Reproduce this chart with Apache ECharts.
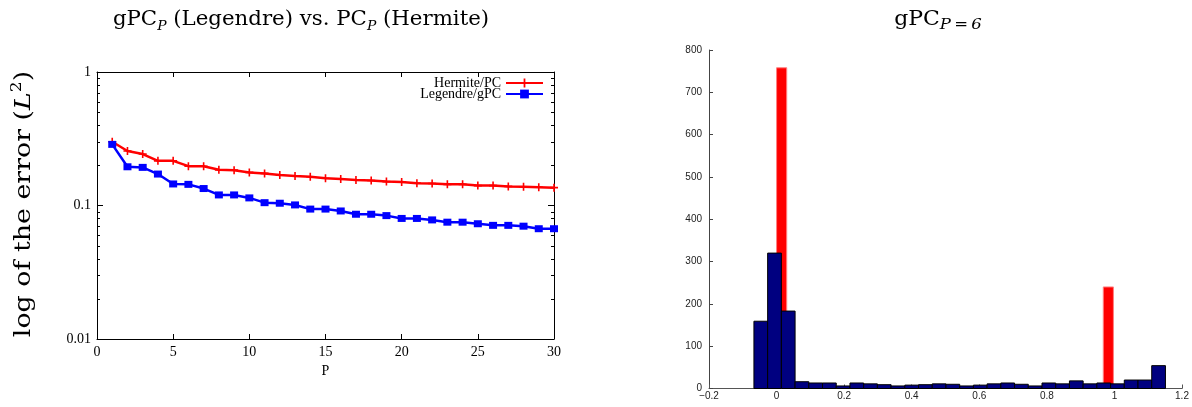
<!DOCTYPE html>
<html><head><meta charset="utf-8">
<script src="https://cdn.jsdelivr.net/npm/echarts@6/dist/echarts.min.js"></script>
<style>html,body{margin:0;padding:0;background:#fff}#c{width:1192px;height:407px}</style>
</head><body><div id="c"></div>
<script>
// ---- left chart data ----
const P = [1,2,3,4,5,6,7,8,9,10,11,12,13,14,15,16,17,18,19,20,21,22,23,24,25,26,27,28,29,30];
const hermite = [0.300,0.256,0.243,0.216,0.216,0.197,0.197,0.185,0.184,0.177,0.174,0.169,0.166,0.164,0.160,0.158,0.155,0.154,0.151,0.150,0.147,0.146,0.144,0.144,0.141,0.141,0.139,0.138,0.137,0.136];
const legendre = [0.287,0.195,0.193,0.172,0.145,0.144,0.134,0.120,0.120,0.114,0.105,0.104,0.101,0.094,0.094,0.091,0.086,0.086,0.084,0.080,0.080,0.078,0.075,0.075,0.073,0.071,0.071,0.070,0.067,0.067];
const logMinorTicks = [0.02,0.03,0.04,0.05,0.06,0.07,0.08,0.09,0.2,0.3,0.4,0.5,0.6,0.7,0.8,0.9];
const seriesNames = ['Hermite/PC','Legendre/gPC'];

// ---- right chart data (histogram, P=6) ----
const binEdges = [-0.067,-0.0264,0.0142,0.0548,0.0954,0.136,0.1766,0.2172,0.2578,0.2984,0.339,0.3796,0.4202,0.4608,0.5014,0.542,0.5826,0.6232,0.6638,0.7044,0.745,0.7856,0.8262,0.8668,0.9074,0.948,0.9886,1.0292,1.0698,1.1104,1.151];
const gpcCounts = [159,320,183,16,13,13,6,13,11,9,6,8,9,11,10,6,8,11,13,10,6,13,11,18,11,13,11,20,20,54];
const refLeft = [0, 0.967];
const refRight = [0.03, 0.997];
const refCounts = [758, 240];

const serif = 'Liberation Serif';
const cm = 'DejaVu Serif';
const sans = 'Liberation Sans';

const histData = gpcCounts.map((c, i) => [binEdges[i], binEdges[i+1], c]);
const refData = refCounts.map((c, i) => [refLeft[i], refRight[i], c]);

function rectItem(fill, stroke) {
  return function (params, api) {
    const a = api.coord([api.value(0), api.value(2)]);
    const b = api.coord([api.value(1), 0]);
    return {
      type: 'rect',
      shape: { x: a[0], y: a[1], width: b[0] - a[0], height: b[1] - a[1] },
      style: { fill: fill, stroke: stroke, lineWidth: 1 }
    };
  };
}

// minor log ticks on both frame sides, positioned by the log axis
function minorTickItem(params, api) {
  const v = api.value(1);
  const l = api.coord([P[0] - 1, v]);
  const r = api.coord([P[P.length - 1], v]);
  const y = Math.round(l[1]) + 0.5;
  return {
    type: 'group',
    children: [
      { type: 'line', shape: { x1: l[0], y1: y, x2: l[0] + 3, y2: y }, style: { stroke: '#000', lineWidth: 1 } },
      { type: 'line', shape: { x1: r[0] - 3, y1: y, x2: r[0], y2: y }, style: { stroke: '#000', lineWidth: 1 } }
    ]
  };
}

const chart = echarts.init(document.getElementById('c'), null, { renderer: 'canvas' });

const plusPath = 'path://M4,0H6V4H10V6H6V10H4V6H0V4H4Z';
const richTitle = {
  a: { fontFamily: cm, fontSize: 20, fontWeight: 'normal', lineHeight: 26, fill: '#000' },
  s: { fontFamily: cm, fontSize: 13, fontWeight: 'normal', fontStyle: 'italic', lineHeight: 10, verticalAlign: 'bottom', fill: '#000' },
  t: { fontFamily: cm, fontSize: 15, fontWeight: 'normal', fontStyle: 'italic', lineHeight: 10, verticalAlign: 'bottom', fill: '#000' }
};

const logAxis = (pos, labels) => ({
  gridIndex: 0, type: 'log', logBase: 10, min: 0.01, max: 1, position: pos,
  axisLine: { show: true, onZero: false, lineStyle: { color: '#000', width: 1 } },
  axisTick: { show: true, inside: true, length: 6, lineStyle: { color: '#000' } },
  axisLabel: labels ? { fontFamily: serif, fontSize: 14, color: '#000', margin: 6 } : { show: false },
  splitLine: { show: false }
});

const option = {
  animation: false,
  backgroundColor: '#fff',
  graphic: [
    {
      type: 'text', x: 301, y: 20, scaleX: 1.065,
      style: {
        text: '{a|gPC}{s|P}{a| (Legendre) vs. PC}{s|P}{a| (Hermite)}',
        align: 'center', verticalAlign: 'middle', rich: richTitle
      }
    },
    {
      type: 'text', x: 938, y: 20, scaleX: 1.1,
      style: {
        text: '{a|gPC}{t|P\u2009=\u20096}',
        align: 'center', verticalAlign: 'middle', rich: richTitle
      }
    },
    {
      type: 'text', x: 24, y: 204, rotation: Math.PI / 2, scaleX: 1.22,
      style: {
        text: '{a|log of the error (}{i|L}{p|2}{a|)}',
        align: 'center', verticalAlign: 'middle',
        rich: {
          a: { fontFamily: cm, fontSize: 22, lineHeight: 28, fill: '#000' },
          i: { fontFamily: cm, fontSize: 22, fontStyle: 'italic', lineHeight: 28, fill: '#000' },
          p: { fontFamily: cm, fontSize: 14, lineHeight: 14, verticalAlign: 'top', fill: '#000' }
        }
      }
    }
  ],
  legend: {
    data: seriesNames,
    orient: 'vertical',
    align: 'right',
    right: 648, top: 76,
    itemWidth: 37, itemHeight: 11, itemGap: -3,
    padding: 0,
    textStyle: { fontFamily: serif, fontSize: 14, lineHeight: 11, color: '#000' }
  },
  grid: [
    { left: 97, top: 72, right: 638, bottom: 68 },
    { left: 709, top: 50, right: 10, bottom: 18.5 }
  ],
  xAxis: [
    {
      gridIndex: 0, type: 'value', min: 0, max: 30, interval: 5, position: 'bottom',
      name: 'P', nameLocation: 'middle', nameGap: 22,
      nameTextStyle: { fontFamily: serif, fontSize: 14, color: '#000' },
      axisLine: { show: true, onZero: false, lineStyle: { color: '#000', width: 1 } },
      axisTick: { show: true, inside: true, length: 5, lineStyle: { color: '#000' } },
      axisLabel: { fontFamily: serif, fontSize: 14, color: '#000', margin: 6 },
      splitLine: { show: false }
    },
    {
      gridIndex: 0, type: 'value', min: 0, max: 30, interval: 5, position: 'top',
      axisLine: { show: true, onZero: false, lineStyle: { color: '#000', width: 1 } },
      axisTick: { show: true, inside: true, length: 5, lineStyle: { color: '#000' } },
      axisLabel: { show: false }, splitLine: { show: false }
    },
    {
      gridIndex: 1, type: 'value', min: -0.2, max: 1.2, interval: 0.2,
      axisLine: { show: true, onZero: false, lineStyle: { color: '#555', width: 1 } },
      axisTick: { show: true, inside: true, length: 4, lineStyle: { color: '#555' } },
      axisLabel: {
        fontFamily: sans, fontSize: 10, color: '#222', margin: 3,
        formatter: v => { const r = Math.round(v * 10) / 10; return (r < 0 ? '\u2212' : '') + String(Math.abs(r)); }
      },
      splitLine: { show: false }
    }
  ],
  yAxis: [
    logAxis('left', true),
    logAxis('right', false),
    {
      gridIndex: 1, type: 'value', min: 0, max: 800, interval: 100,
      axisLine: { show: true, onZero: false, lineStyle: { color: '#444', width: 1 } },
      axisTick: { show: true, inside: true, length: 4, lineStyle: { color: '#444' } },
      axisLabel: { fontFamily: sans, fontSize: 10, color: '#222', margin: 7 },
      splitLine: { show: false }
    }
  ],
  series: [
    {
      type: 'custom', xAxisIndex: 0, yAxisIndex: 0, silent: true,
      renderItem: minorTickItem,
      data: logMinorTicks.map(v => [P[0] - 1, v]), z: 1
    },
    {
      name: seriesNames[0], type: 'line', xAxisIndex: 0, yAxisIndex: 0,
      data: P.map((p, i) => [p, hermite[i]]),
      symbol: plusPath, symbolSize: 8,
      lineStyle: { color: '#ff0000', width: 2.5 },
      itemStyle: { color: '#ff0000' }, z: 3
    },
    {
      name: seriesNames[1], type: 'line', xAxisIndex: 0, yAxisIndex: 0,
      data: P.map((p, i) => [p, legendre[i]]),
      symbol: 'rect', symbolSize: [8, 7],
      lineStyle: { color: '#0000ff', width: 2.5 },
      itemStyle: { color: '#0000ff' }, z: 4
    },
    {
      type: 'custom', xAxisIndex: 2, yAxisIndex: 2,
      renderItem: rectItem('#ff0000', '#ff8080'),
      data: refData, z: 2
    },
    {
      type: 'custom', xAxisIndex: 2, yAxisIndex: 2,
      renderItem: rectItem('#000080', '#000000'),
      data: histData, z: 3
    }
  ]
};
chart.setOption(option);
</script>
</body></html>
